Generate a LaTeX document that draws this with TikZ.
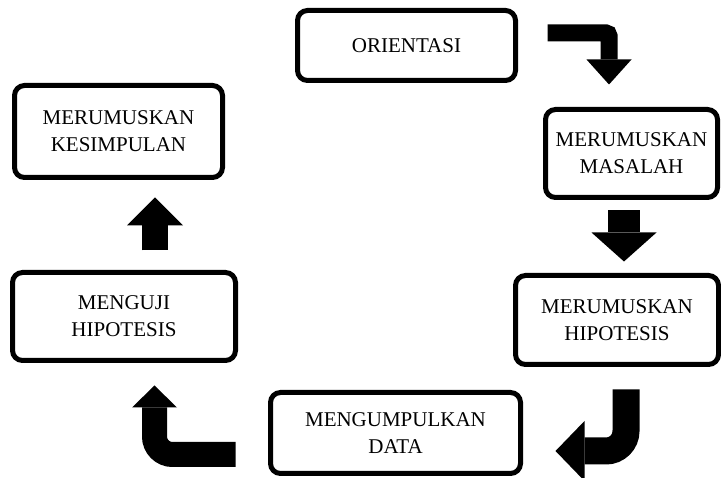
\documentclass[tikz,border=0pt]{standalone}
\usepackage{fontspec}
\setmainfont{Liberation Serif}
\usetikzlibrary{arrows.meta,positioning,calc}

\begin{document}
\begin{tikzpicture}[x=1pt, y=-1pt,
    box/.style={rectangle, draw, rounded corners=10pt, line width=5pt, align=center,
        inner sep=2pt, font=\fontsize{21}{27}\selectfont},
    bigarrow/.style n args={3}{line width=#1, -{Triangle[length=#2, width=#3, line width=0pt]}}]
    \useasboundingbox (0,0) rectangle (721,478);

    \node[box, minimum width=218pt, minimum height=70pt] (orient) at (406.5,45.5) {ORIENTASI};
    \node[box, minimum width=172pt, minimum height=88pt] (masalah) at (631.5,153.5) {MERUMUSKAN\\MASALAH};
    \node[box, minimum width=203pt, minimum height=89pt] (hipo) at (617,320) {MERUMUSKAN\\HIPOTESIS};
    \node[box, minimum width=250pt, minimum height=81pt] (data) at (395.5,433) {MENGUMPULKAN\\DATA};
    \node[box, minimum width=223pt, minimum height=88pt] (uji) at (124,316.5) {MENGUJI\\HIPOTESIS};
    \node[box, minimum width=208pt, minimum height=92pt] (simpul) at (118.5,131.5) {MERUMUSKAN\\KESIMPULAN};

    % Block arrows
    \draw[bigarrow={17pt}{25pt}{45pt}, rounded corners=3pt]
        ([shift={(29.5,-12.5)}]orient.east) -| ([shift={(-22.5,-22.5)}]masalah.north);
    \draw[bigarrow={32pt}{29pt}{65pt}]
        ([shift={(-7.5,10.5)}]masalah.south) -- ([shift={(7,-11.5)}]hipo.north);
    \draw[bigarrow={27pt}{29pt}{60pt}, rounded corners=20pt]
        ([shift={(9,22.5)}]hipo.south) |- ([shift={(32.5,18)}]data.east);
    \draw[bigarrow={25pt}{22pt}{45pt}, rounded corners=18pt]
        ([shift={(-32.5,21.5)}]data.west) -| ([shift={(30.5,22.5)}]uji.south);
    \draw[bigarrow={26pt}{28pt}{56pt}]
        ([shift={(31,-19.5)}]uji.north) -- ([shift={(36.5,17.5)}]simpul.south);
\end{tikzpicture}
\end{document}
